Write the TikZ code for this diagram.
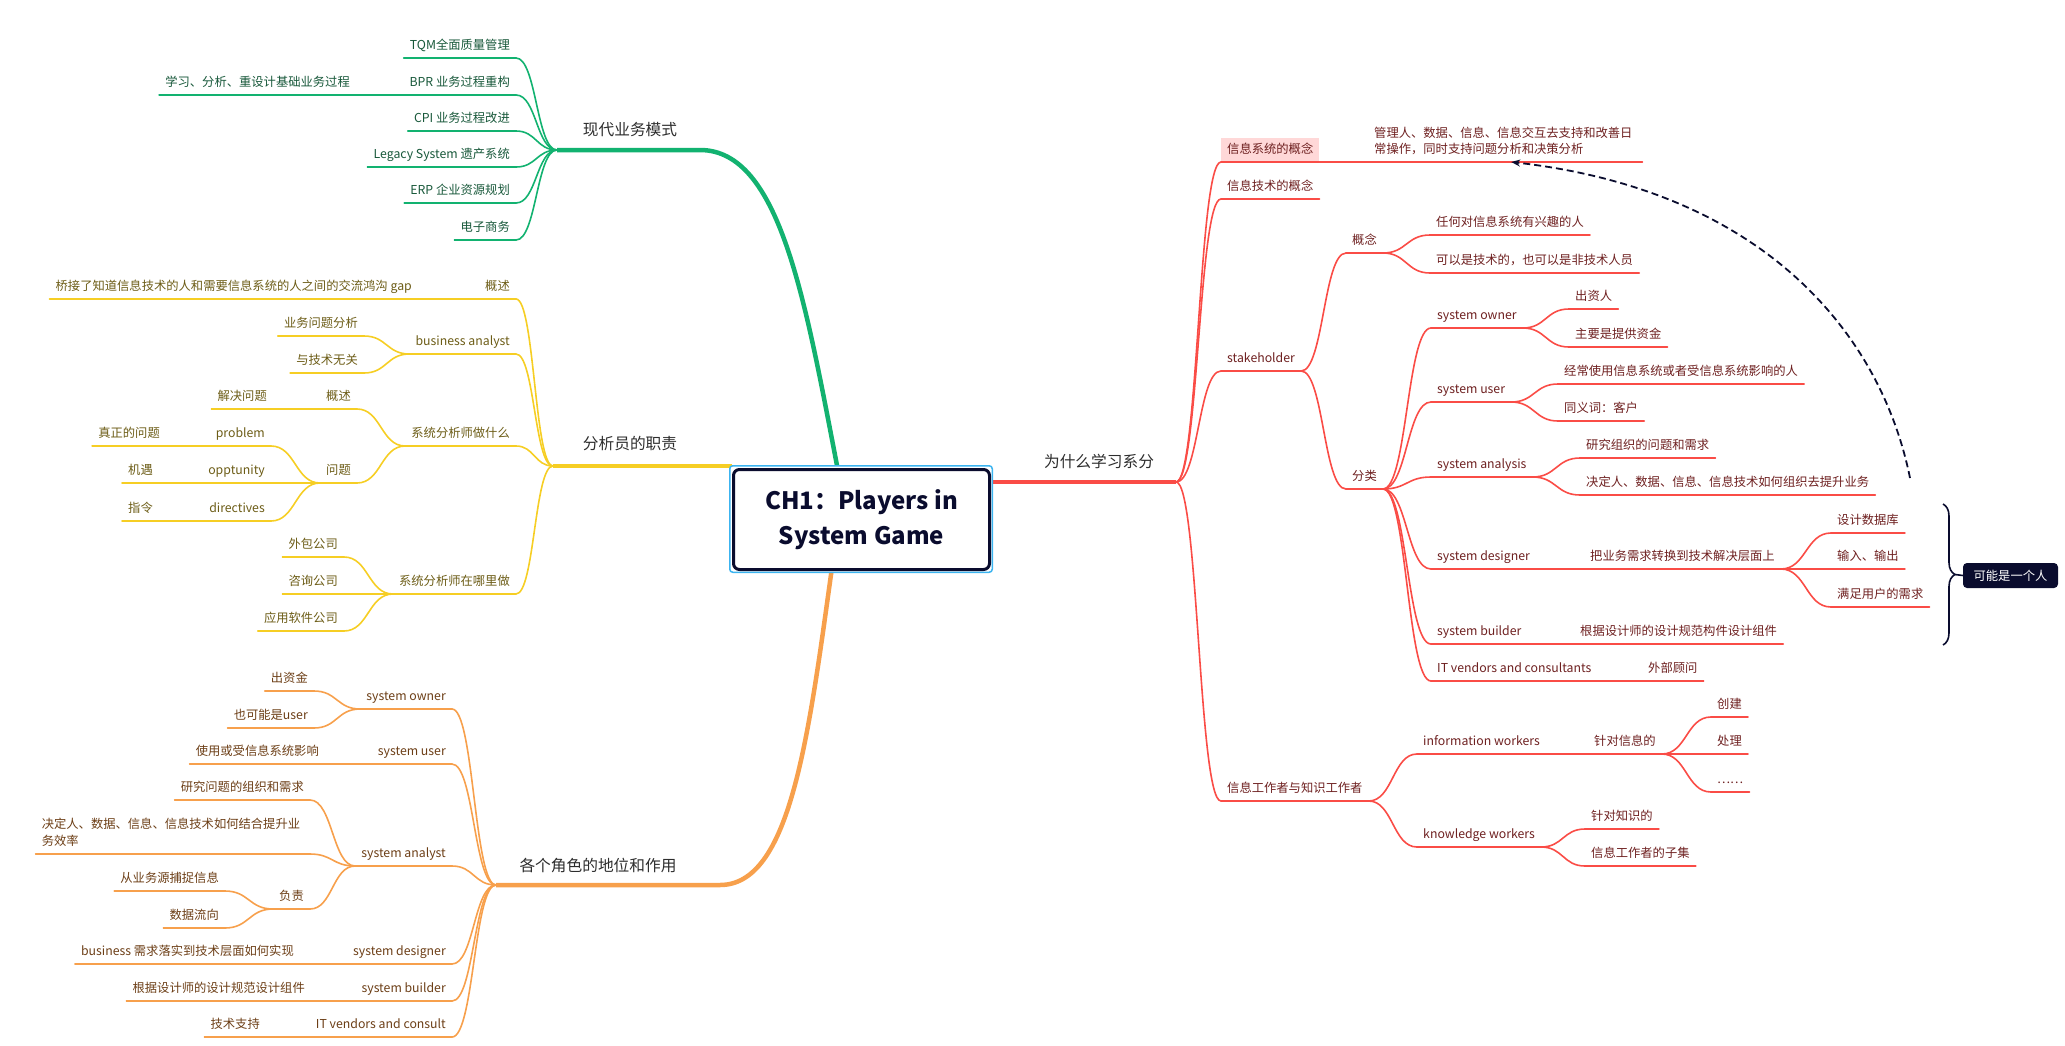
\documentclass[tikz,border=0pt]{standalone}
\usepackage{fontspec}
\setmainfont{Noto Sans CJK SC}
\usetikzlibrary{calc,decorations.pathreplacing,arrows.meta,backgrounds}

\definecolor{gline}{RGB}{18,178,112}
\definecolor{gtext}{RGB}{24,88,58}
\definecolor{yline}{RGB}{246,206,36}
\definecolor{ytext}{RGB}{108,92,22}
\definecolor{oline}{RGB}{247,160,76}
\definecolor{otext}{RGB}{108,62,22}
\definecolor{rline}{RGB}{250,76,70}
\definecolor{rtext}{RGB}{110,32,32}
\definecolor{lbl}{RGB}{45,45,45}
\definecolor{navy}{RGB}{10,12,46}
\definecolor{lblue}{RGB}{60,180,240}
\definecolor{pinkhl}{RGB}{255,216,216}

\newcommand\mmconn[3][]{\draw[#1] let \p1=(#2), \p2=(#3) in (\p1) .. controls ({(\x1+\x2)/2},\y1) and ({(\x1+\x2)/2},\y2) .. (\p2);}

\tikzset{
  tp/.style={inner xsep=6pt, inner ysep=6pt, text height=9.5pt, text depth=2.6pt, font=\fontsize{12.3pt}{15pt}\selectfont},
  gL/.style={tp, anchor=south east, text=gtext},
  yL/.style={tp, anchor=south east, text=ytext},
  oL/.style={tp, anchor=south east, text=otext},
  rR/.style={tp, anchor=south west, text=rtext},
  brl/.style={font=\fontsize{15.7pt}{18pt}\selectfont, text=lbl, inner sep=0pt},
  gc/.style={draw=gline, line width=1.6pt, line cap=round},
  yc/.style={draw=yline, line width=1.6pt, line cap=round},
  oc/.style={draw=oline, line width=1.6pt, line cap=round},
  rc/.style={draw=rline, line width=1.6pt, line cap=round},
  mainline/.style={line width=4.5pt},
}

\begin{document}
\begin{tikzpicture}[x=1pt,y=-1pt]
\useasboundingbox (0,0) rectangle (2065,1045);

% ---------- central topic
\node[draw=lblue, line width=1.5pt, rounded corners=3pt, fill=white, minimum width=262.5pt, minimum height=106.5pt, inner sep=0pt] (boxo) at (861,519) {};
\node[draw=navy, line width=3pt, rounded corners=6pt, fill=white, minimum width=256pt, minimum height=100pt, inner sep=0pt, align=center, font=\fontsize{24pt}{35pt}\selectfont\bfseries, text=navy] (box) at (861.5,519.5) {CH1：Players in\\System Game};

% ---------- branch points
\coordinate (gbp) at (557,150);
\coordinate (ybp) at (553,466);
\coordinate (obp) at (496,885);
\coordinate (rbp) at (1176,482);

\begin{scope}[on background layer]
\draw[gline, mainline] ([xshift=-24pt]box.north) .. controls (805,300) and (780,150) .. (700,150) -- (gbp);
\draw[oline, mainline] ([xshift=-30pt]box.south) .. controls (808,740) and (790,885) .. (720,885) -- (obp);
\draw[yline, mainline] (ybp) -- ([yshift=2pt]box.north west);
\draw[rline, mainline] ([yshift=-14pt]box.north east) -- (rbp);
\end{scope}

% ---------- branch labels
\node[brl] (gl) at (630,130) {现代业务模式};
\node[brl] (yl) at (630,444) {分析员的职责};
\node[brl] (ol) at (598,866) {各个角色的地位和作用};
\node[brl] (rl) at (1099,461) {为什么学习系分};

% ---------- green branch
\node[gL] (g1) at (516,58) {TQM全面质量管理};
\node[gL] (g2) at (516,95) {BPR 业务过程重构};
\node[gL] (g2a) at (356,95) {学习、分析、重设计基础业务过程};
\node[gL] (g3) at (516,131) {CPI 业务过程改进};
\node[gL] (g4) at (516,167) {Legacy System 遗产系统};
\node[gL] (g5) at (516,203) {ERP 企业资源规划};
\node[gL] (g6) at (516,240) {电子商务};
\foreach \k in {g1,g2,g2a,g3,g4,g5,g6} {\draw[gc] (\k.south west) -- (\k.south east);}
\foreach \k in {g1,g2,g3,g4,g5,g6} {\mmconn[gc]{\k.south east}{gbp}}
\mmconn[gc]{g2a.south east}{g2.south west}

% ---------- yellow branch
\node[yL] (y1) at (516,299) {概述};
\node[yL] (y1a) at (418,299) {桥接了知道信息技术的人和需要信息系统的人之间的交流鸿沟 gap};
\node[yL] (y2) at (516,354) {business analyst};
\node[yL] (y2a) at (364,336) {业务问题分析};
\node[yL] (y2b) at (364,373) {与技术无关};
\node[yL] (y3) at (516,446) {系统分析师做什么};
\node[yL] (y3a) at (357,409) {概述};
\node[yL] (y3a1) at (273,409) {解决问题};
\node[yL] (y3b) at (357,483) {问题};
\node[yL] (y3b1) at (271,446) {problem};
\node[yL] (y3b1a) at (166,446) {真正的问题};
\node[yL] (y3b2) at (271,483) {opptunity};
\node[yL] (y3b2a) at (159,483) {机遇};
\node[yL] (y3b3) at (271,521) {directives};
\node[yL] (y3b3a) at (159,521) {指令};
\node[yL] (y4) at (516,594) {系统分析师在哪里做};
\node[yL] (y4a) at (344,557) {外包公司};
\node[yL] (y4b) at (344,594) {咨询公司};
\node[yL] (y4c) at (344,631) {应用软件公司};
\foreach \k in {y1,y1a,y2,y2a,y2b,y3,y3a,y3a1,y3b,y3b1,y3b1a,y3b2,y3b2a,y3b3,y3b3a,y4,y4a,y4b,y4c} {\draw[yc] (\k.south west) -- (\k.south east);}
\foreach \k in {y1,y2,y3,y4} {\mmconn[yc]{\k.south east}{ybp}}
\mmconn[yc]{y1a.south east}{y1.south west}
\foreach \k in {y2a,y2b} {\mmconn[yc]{\k.south east}{y2.south west}}
\foreach \k in {y3a,y3b} {\mmconn[yc]{\k.south east}{y3.south west}}
\mmconn[yc]{y3a1.south east}{y3a.south west}
\foreach \k in {y3b1,y3b2,y3b3} {\mmconn[yc]{\k.south east}{y3b.south west}}
\mmconn[yc]{y3b1a.south east}{y3b1.south west}
\mmconn[yc]{y3b2a.south east}{y3b2.south west}
\mmconn[yc]{y3b3a.south east}{y3b3.south west}
\foreach \k in {y4a,y4b,y4c} {\mmconn[yc]{\k.south east}{y4.south west}}

% ---------- orange branch
\node[oL] (o1) at (452,709) {system owner};
\node[oL] (o1a) at (314,691) {出资金};
\node[oL] (o1b) at (314,728) {也可能是user};
\node[oL] (o2) at (452,764) {system user};
\node[oL] (o2a) at (325,764) {使用或受信息系统影响};
\node[oL] (o3) at (452,866) {system analyst};
\node[oL] (o3a) at (310,800) {研究问题的组织和需求};
\node[oL] (o3b) at (310,854) {\parbox[b]{262pt}{\raggedright\baselineskip=17pt 决定人、数据、信息、信息技术如何结合提升业\\务效率}};
\node[oL] (o3c) at (310,909) {负责};
\node[oL] (o3c1) at (225,891) {从业务源捕捉信息};
\node[oL] (o3c2) at (225,928) {数据流向};
\node[oL] (o4) at (452,964) {system designer};
\node[oL] (o4a) at (300,964) {business 需求落实到技术层面如何实现};
\node[oL] (o5) at (452,1001) {system builder};
\node[oL] (o5a) at (311,1001) {根据设计师的设计规范设计组件};
\node[oL] (o6) at (452,1037) {IT vendors and consult};
\node[oL] (o6a) at (266,1037) {技术支持};
\foreach \k in {o1,o1a,o1b,o2,o2a,o3,o3a,o3b,o3c,o3c1,o3c2,o4,o4a,o5,o5a,o6,o6a} {\draw[oc] (\k.south west) -- (\k.south east);}
\foreach \k in {o1,o2,o3,o4,o5,o6} {\mmconn[oc]{\k.south east}{obp}}
\foreach \k in {o1a,o1b} {\mmconn[oc]{\k.south east}{o1.south west}}
\mmconn[oc]{o2a.south east}{o2.south west}
\foreach \k in {o3a,o3b,o3c} {\mmconn[oc]{\k.south east}{o3.south west}}
\foreach \k in {o3c1,o3c2} {\mmconn[oc]{\k.south east}{o3c.south west}}
\mmconn[oc]{o4a.south east}{o4.south west}
\mmconn[oc]{o5a.south east}{o5.south west}
\mmconn[oc]{o6a.south east}{o6.south west}

% ---------- red branch
\node[rR, fill=pinkhl] (r1) at (1221,162) {信息系统的概念};
\node[rR] (r1a) at (1368,162) {\parbox[b]{262pt}{\raggedright\baselineskip=16pt 管理人、数据、信息、信息交互去支持和改善日\\常操作，同时支持问题分析和决策分析}};
\node[rR] (r2) at (1221,199) {信息技术的概念};
\node[rR] (r3) at (1221,371) {stakeholder};
\node[rR] (r3a) at (1346,253) {概念};
\node[rR] (r3a1) at (1430,235) {任何对信息系统有兴趣的人};
\node[rR] (r3a2) at (1430,273) {可以是技术的，也可以是非技术人员};
\node[rR] (r3b) at (1346,489) {分类};
\node[rR] (r3b1) at (1431,328) {system owner};
\node[rR] (r3b1a) at (1569,309) {出资人};
\node[rR] (r3b1b) at (1569,347) {主要是提供资金};
\node[rR] (r3b2) at (1431,402) {system user};
\node[rR] (r3b2a) at (1558,384) {经常使用信息系统或者受信息系统影响的人};
\node[rR] (r3b2b) at (1558,421) {同义词：客户};
\node[rR] (r3b3) at (1431,477) {system analysis};
\node[rR] (r3b3a) at (1580,458) {研究组织的问题和需求};
\node[rR] (r3b3b) at (1580,495) {决定人、数据、信息、信息技术如何组织去提升业务};
\node[rR] (r3b4) at (1431,569) {system designer};
\node[rR] (r3b4a) at (1584,569) {把业务需求转换到技术解决层面上};
\node[rR] (r3b4a1) at (1831,533) {设计数据库};
\node[rR] (r3b4a2) at (1831,569) {输入、输出};
\node[rR] (r3b4a3) at (1831,607) {满足用户的需求};
\node[rR] (r3b5) at (1431,644) {system builder};
\node[rR] (r3b5a) at (1574,644) {根据设计师的设计规范构件设计组件};
\node[rR] (r3b6) at (1431,681) {IT vendors and consultants};
\node[rR] (r3b6a) at (1642,681) {外部顾问};
\node[rR] (r4) at (1221,801) {信息工作者与知识工作者};
\node[rR] (r4a) at (1417,754) {information workers};
\node[rR] (r4a1) at (1588,754) {针对信息的};
\node[rR] (r4a1a) at (1711,717) {创建};
\node[rR] (r4a1b) at (1711,754) {处理};
\node[rR] (r4a1c) at (1711,792) {……};
\node[rR] (r4b) at (1417,847) {knowledge workers};
\node[rR] (r4b1) at (1585,829) {针对知识的};
\node[rR] (r4b2) at (1585,866) {信息工作者的子集};
\foreach \k in {r1,r1a,r2,r3,r3a,r3a1,r3a2,r3b,r3b1,r3b1a,r3b1b,r3b2,r3b2a,r3b2b,r3b3,r3b3a,r3b3b,r3b4,r3b4a,r3b4a1,r3b4a2,r3b4a3,r3b5,r3b5a,r3b6,r3b6a,r4,r4a,r4a1,r4a1a,r4a1b,r4a1c,r4b,r4b1,r4b2} {\draw[rc] (\k.south west) -- (\k.south east);}
\foreach \k in {r1,r2,r3,r4} {\mmconn[rc]{rbp}{\k.south west}}
\mmconn[rc]{r1.south east}{r1a.south west}
\foreach \k in {r3a,r3b} {\mmconn[rc]{r3.south east}{\k.south west}}
\foreach \k in {r3a1,r3a2} {\mmconn[rc]{r3a.south east}{\k.south west}}
\foreach \k in {r3b1,r3b2,r3b3,r3b4,r3b5,r3b6} {\mmconn[rc]{r3b.south east}{\k.south west}}
\foreach \k in {r3b1a,r3b1b} {\mmconn[rc]{r3b1.south east}{\k.south west}}
\foreach \k in {r3b2a,r3b2b} {\mmconn[rc]{r3b2.south east}{\k.south west}}
\foreach \k in {r3b3a,r3b3b} {\mmconn[rc]{r3b3.south east}{\k.south west}}
\mmconn[rc]{r3b4.south east}{r3b4a.south west}
\foreach \k in {r3b4a1,r3b4a2,r3b4a3} {\mmconn[rc]{r3b4a.south east}{\k.south west}}
\mmconn[rc]{r3b5.south east}{r3b5a.south west}
\mmconn[rc]{r3b6.south east}{r3b6a.south west}
\foreach \k in {r4a,r4b} {\mmconn[rc]{r4.south east}{\k.south west}}
\mmconn[rc]{r4a.south east}{r4a1.south west}
\foreach \k in {r4a1a,r4a1b,r4a1c} {\mmconn[rc]{r4a1.south east}{\k.south west}}
\foreach \k in {r4b1,r4b2} {\mmconn[rc]{r4b.south east}{\k.south west}}

% ---------- brace and summary
\draw[navy, line width=1.6pt, decorate, decoration={brace, amplitude=12pt}] (1943,504) -- (1943,645);
\coordinate (bt) at (1955,574.5);
\node[fill=navy, text=white, rounded corners=4pt, minimum width=95pt, minimum height=25pt, inner sep=0pt, font=\fontsize{12.3pt}{15pt}\selectfont] (pb) at (2010.5,575.5) {可能是一个人};
\draw[navy, line width=1.6pt] (bt) -- (pb.west);

% ---------- dashed relation
\coordinate (ds) at (1910,478);
\draw[navy, line width=1.8pt, dash pattern=on 7pt off 4pt, -{Stealth[length=9pt,width=7pt]}] (ds) .. controls (1880,330) and (1760,190) .. ([xshift=6pt]r1a.south);
\end{tikzpicture}
\end{document}
